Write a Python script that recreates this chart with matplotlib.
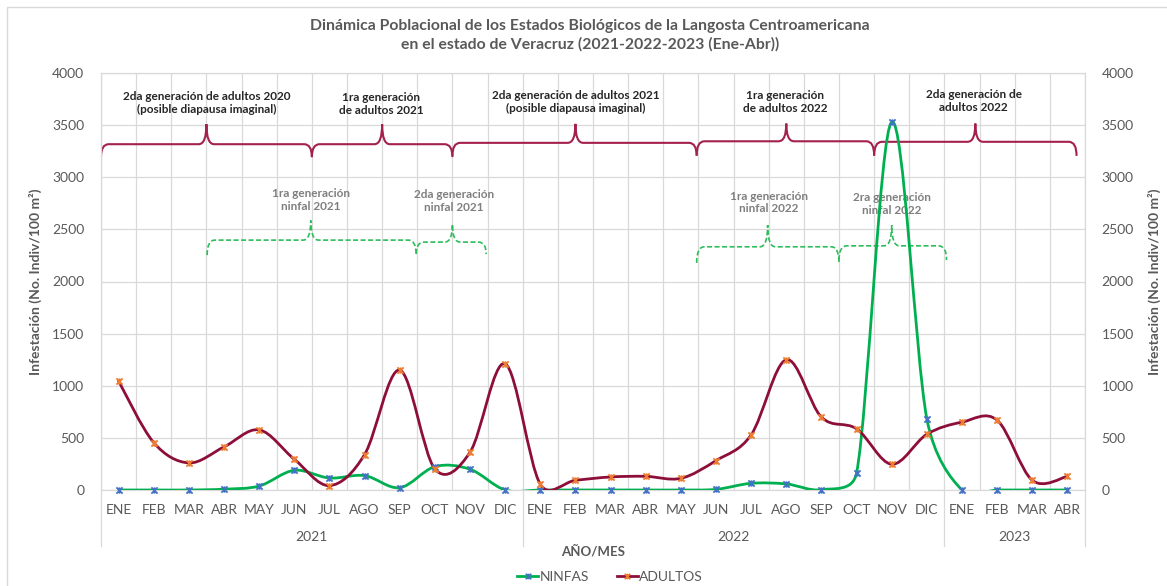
import numpy as np
import matplotlib
matplotlib.use("Agg")
import matplotlib.pyplot as plt
from matplotlib.path import Path
from matplotlib.patches import PathPatch, Rectangle
from matplotlib.lines import Line2D

plt.rcParams["font.family"] = ["Lato", "DejaVu Sans"]

# data
months = ["ENE", "FEB", "MAR", "ABR", "MAY", "JUN", "JUL", "AGO", "SEP", "OCT", "NOV", "DIC",
          "ENE", "FEB", "MAR", "ABR", "MAY", "JUN", "JUL", "AGO", "SEP", "OCT", "NOV", "DIC",
          "ENE", "FEB", "MAR", "ABR"]
years = ["2021", "2022", "2023"]
months_per_year = [12, 12, 4]

ninfas = [0, 0, 0, 8, 38, 189, 115, 138, 22, 224, 199, 0,
          0, 0, 0, 0, 0, 6, 64, 58, 3, 163, 3530, 683,
          0, 0, 0, 0]
adultos = [1045, 455, 260, 413, 577, 295, 42, 340, 1150, 202, 362, 1211,
           55, 93, 125, 131, 112, 282, 529, 1250, 699, 587, 247, 535,
           651, 670, 93, 131]

# brace annotations: (start, end, tip, y line, y tip, y ends, text, text x, text y)
adult_notes = [
    (-0.5, 5.5, 2.5, 3317, 3509, 3193, "2da generación de adultos 2020\n(posible diapausa imaginal)", 2.5, 3715),
    (5.5, 9.5, 7.5, 3317, 3509, 3193, "1ra generación\nde adultos 2021", 7.48, 3705),
    (9.5, 16.45, 13.0, 3330, 3512, 3205, "2da generación de adultos 2021\n(posible diapausa imaginal)", 13.0, 3720),
    (16.45, 21.5, 19.0, 3345, 3515, 3210, "1ra generación\nde adultos 2022", 18.97, 3720),
    (21.5, 27.26, 24.38, 3340, 3515, 3205, "2da generación de\nadultos 2022", 24.33, 3730),
]
nymph_notes = [
    (2.52, 8.47, 5.47, 2397, 2585, 2253, "1ra generación\nninfal 2021", 5.47, 2780),
    (8.47, 10.46, 9.5, 2378, 2550, 2263, "2da generación\nninfal 2021", 9.55, 2771),
    (16.45, 20.5, 18.47, 2333, 2541, 2178, "1ra generación\nninfal 2022", 18.5, 2757),
    (20.5, 23.56, 22.0, 2342, 2541, 2205, "2ra generación\nninfal 2022", 22.0, 2747),
]

GREEN = "#00B050"
RED = "#8E0E3A"
BRACE_RED = "#A3214B"
GRID = "#D9D9D9"
TXT = "#595959"

# pixel size of one data unit, used so the smoothing behaves like excel's (screen space)
PX_X = 984 / 28
PX_Y = 417 / 4000


def smooth_path(x, y):
    # excel-like smoothed line: bezier arms limited to half the segment length
    pts = np.column_stack([np.asarray(x) * PX_X, np.asarray(y) * PX_Y]).astype(float)
    n = len(pts)
    verts = [pts[0]]
    codes = [Path.MOVETO]
    for i in range(n - 1):
        p0 = pts[max(i - 1, 0)]
        p1 = pts[i]
        p2 = pts[i + 1]
        p3 = pts[min(i + 2, n - 1)]
        d12 = np.hypot(*(p2 - p1))
        d02 = np.hypot(*(p2 - p0))
        d13 = np.hypot(*(p3 - p1))
        f1 = 1 / 6 if d02 / 6 < d12 / 2 else d12 / (2 * d02)
        f2 = 1 / 6 if d13 / 6 < d12 / 2 else d12 / (2 * d13)
        verts += [p1 + f1 * (p2 - p0), p2 - f2 * (p3 - p1), p2]
        codes += [Path.CURVE4] * 3
    verts = np.array(verts) / [PX_X, PX_Y]
    return Path(verts, codes)


def brace(ax, x0, x1, xm, yh, ytip, yend, color, ls, lw):
    r = 0.22
    verts = [(x0, yend), (x0, yh), (x0 + r, yh),
             (xm - r, yh), (xm, yh), (xm, ytip),
             (xm, yh), (xm + r, yh),
             (x1 - r, yh), (x1, yh), (x1, yend)]
    codes = [Path.MOVETO, Path.CURVE3, Path.CURVE3,
             Path.LINETO, Path.CURVE3, Path.CURVE3,
             Path.CURVE3, Path.CURVE3,
             Path.LINETO, Path.CURVE3, Path.CURVE3]
    ax.add_patch(PathPatch(Path(verts, codes), fill=False, edgecolor=color,
                           linestyle=ls, lw=lw, zorder=2))


star = Path([(-1, -1), (1, 1), (-1, 1), (1, -1), (0, -1), (0, 1)],
            [Path.MOVETO, Path.LINETO, Path.MOVETO, Path.LINETO, Path.MOVETO, Path.LINETO])

fig = plt.figure(figsize=(11.67, 5.86), dpi=100)
ax = fig.add_axes([101 / 1167, 1 - 490 / 586, 984 / 1167, 417 / 586])

x = np.arange(len(months))
ax.set_xlim(-0.5, len(months) - 0.5)
ax.set_ylim(0, 4000)
ax.set_yticks(np.arange(0, 4001, 500))
ax.set_xticks(x)
ax.set_xticklabels([])
ax.set_xticks(np.arange(-0.5, len(months), 1), minor=True)
ax.tick_params(axis="both", which="both", length=0)
ax.tick_params(axis="y", labelsize=10, labelcolor=TXT, pad=12)
ax.grid(axis="y", which="major", color=GRID, lw=0.9)
ax.grid(axis="x", which="minor", color=GRID, lw=0.9)
for s in ax.spines.values():
    s.set_color(GRID)
    s.set_linewidth(0.9)

# braces and notes
for x0, x1, xm, yh, yt, ye, txt, tx, ty in adult_notes:
    brace(ax, x0, x1, xm, yh, yt, ye, BRACE_RED, "-", 1.5)
    ax.text(tx, ty, txt, ha="center", va="center", fontsize=8.5, fontweight="bold",
            color="#262626", linespacing=1.2, zorder=2)
for x0, x1, xm, yh, yt, ye, txt, tx, ty in nymph_notes:
    brace(ax, x0, x1, xm, yh, yt, ye, "#2EBD5B", (0, (3, 1.5)), 1.2)
    ax.text(tx, ty, txt, ha="center", va="center", fontsize=8.5, fontweight="bold",
            color="#7F7F7F", linespacing=1.2, zorder=2)

# smoothed series
ax.add_patch(PathPatch(smooth_path(x, ninfas), fill=False, edgecolor=GREEN, lw=2.0,
                       capstyle="round", zorder=4))
ax.add_patch(PathPatch(smooth_path(x, adultos), fill=False, edgecolor=RED, lw=2.0,
                       capstyle="round", zorder=4))
ax.plot(x, ninfas, ls="none", marker=star, ms=4.5, mec="#4472C4", mew=1.3, zorder=5, clip_on=False)
ax.plot(x, adultos, ls="none", marker=star, ms=4.5, mec="#ED7D31", mew=1.3, zorder=5, clip_on=False)

# right axis mirrors the left one
ax2 = ax.twinx()
ax2.set_ylim(0, 4000)
ax2.set_yticks(np.arange(0, 4001, 500))
ax2.tick_params(axis="y", length=0, labelsize=10, labelcolor=TXT, pad=12)
for s in ax2.spines.values():
    s.set_visible(False)

ylab = "Infestación (No. Indiv/100 m²)"
ax.set_ylabel(ylab, fontsize=10, fontweight="bold", color=TXT, labelpad=7)
ax2.set_ylabel(ylab, fontsize=10, fontweight="bold", color=TXT, rotation=90, labelpad=10)

# two-level category axis
trans = ax.get_xaxis_transform()
for i, m in enumerate(months):
    ax.text(i, -0.048, m, transform=trans, ha="center", va="center", fontsize=10, color=TXT)
start = -0.5
for yr, n in zip(years, months_per_year):
    ax.text(start + n / 2, -0.113, yr, transform=trans, ha="center", va="center",
            fontsize=10, color=TXT)
    start += n
edges = np.concatenate([[-0.5], -0.5 + np.cumsum(months_per_year)])
for e in edges:
    ax.add_line(Line2D([e, e], [0, -0.134], transform=trans, color=GRID, lw=0.9, clip_on=False))

ax.text(0.5, -0.146, "AÑO/MES", transform=ax.transAxes, ha="center", va="center",
        fontsize=9.5, fontweight="bold", color=TXT)

handles = [Line2D([], [], color=GREEN, lw=2, marker=star, ms=4, mec="#4472C4", mew=1.2),
           Line2D([], [], color=RED, lw=2, marker=star, ms=4, mec="#ED7D31", mew=1.2)]
fig.legend(handles, ["NINFAS", "ADULTOS"], loc="center", bbox_to_anchor=(610 / 1167, 1 - 577 / 586),
           ncol=2, frameon=False, fontsize=10, labelcolor=TXT, handlelength=1.5,
           handletextpad=0.1, columnspacing=2.0)

fig.text(590 / 1167, 1 - 35 / 586,
         "Dinámica Poblacional de los Estados Biológicos de la Langosta Centroamericana\n"
         "en el estado de Veracruz (2021-2022-2023 (Ene-Abr))",
         ha="center", va="center", fontsize=11.3, fontweight="bold", color=TXT, linespacing=1.35)

fig.add_artist(Rectangle((7 / 1167, -0.05), 1.1, 1.05 - 7 / 586, transform=fig.transFigure,
                         fill=False, edgecolor=GRID, lw=1))

fig.savefig("out.png", dpi=100)
